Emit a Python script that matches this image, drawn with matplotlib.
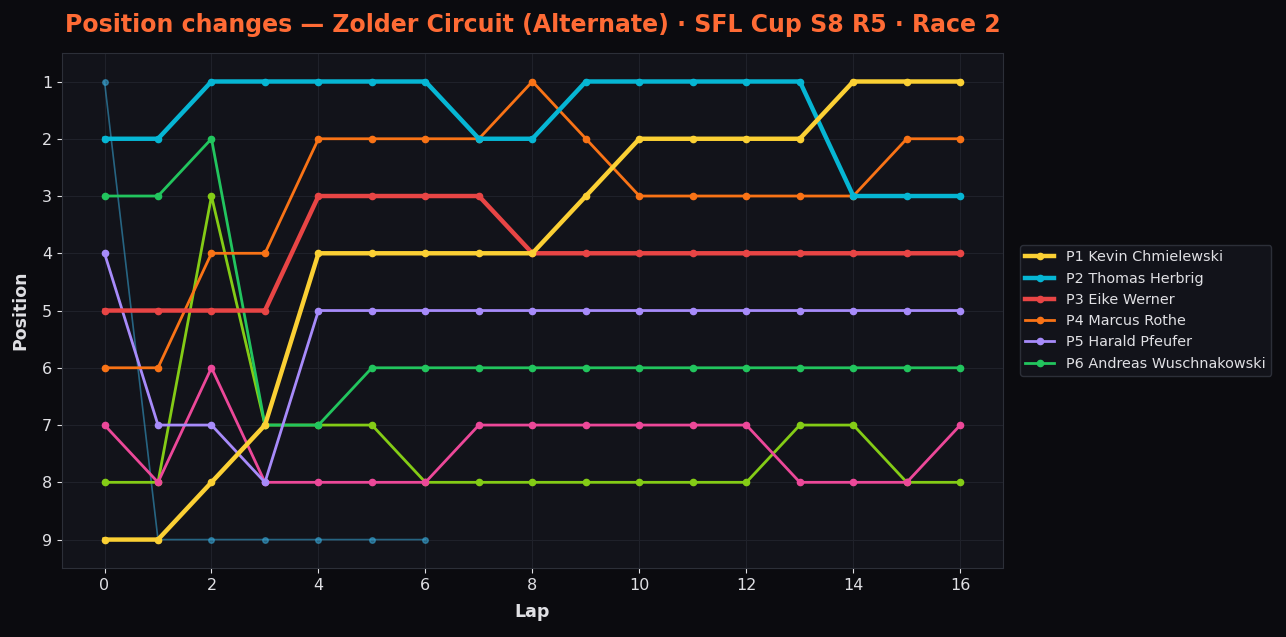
import matplotlib
matplotlib.use("Agg")
import matplotlib.pyplot as plt

# Rundendaten
laps = list(range(17))

p1_kevin = [9, 9, 8, 7, 4, 4, 4, 4, 4, 3, 2, 2, 2, 2, 1, 1, 1]
p2_thomas = [2, 2, 1, 1, 1, 1, 1, 2, 2, 1, 1, 1, 1, 1, 3, 3, 3]
p3_eike = [5, 5, 5, 5, 3, 3, 3, 3, 4, 4, 4, 4, 4, 4, 4, 4, 4]
p4_marcus = [6, 6, 4, 4, 2, 2, 2, 2, 1, 2, 3, 3, 3, 3, 3, 2, 2]
p5_harald = [4, 7, 7, 8, 5, 5, 5, 5, 5, 5, 5, 5, 5, 5, 5, 5, 5]
p6_andreas = [3, 3, 2, 7, 7, 6, 6, 6, 6, 6, 6, 6, 6, 6, 6, 6, 6]
p7_pink = [7, 8, 6, 8, 8, 8, 8, 7, 7, 7, 7, 7, 7, 8, 8, 8, 7]
p8_lime = [8, 8, 3, 7, 7, 7, 8, 8, 8, 8, 8, 8, 8, 7, 7, 8, 8]
dnf_laps = [0, 1, 2, 3, 4, 5, 6]
dnf_pos = [1, 9, 9, 9, 9, 9, 9]

bg = "#0b0b0f"
axbg = "#12131a"
txt = "#e0e0e4"

fig, ax = plt.subplots(figsize=(12.86, 6.37), dpi=100)
fig.patch.set_facecolor(bg)
ax.set_facecolor(axbg)

ax.plot(dnf_laps, dnf_pos, "-o", color="#38a8d8", alpha=0.55, lw=1.2, ms=4, zorder=1)
ax.plot(laps, p8_lime, "-o", color="#84cc16", lw=2, ms=4.5, zorder=2)
ax.plot(laps, p7_pink, "-o", color="#ec4899", lw=2, ms=4.5, zorder=3)
ax.plot(laps, p6_andreas, "-o", color="#22c55e", lw=2, ms=4.5, zorder=4,
        label="P6 Andreas Wuschnakowski")
ax.plot(laps, p5_harald, "-o", color="#a78bfa", lw=2, ms=4.5, zorder=5,
        label="P5 Harald Pfeufer")
ax.plot(laps, p4_marcus, "-o", color="#f97316", lw=2, ms=4.5, zorder=6,
        label="P4 Marcus Rothe")
ax.plot(laps, p3_eike, "-o", color="#e84545", lw=3.2, ms=4.5, zorder=7,
        label="P3 Eike Werner")
ax.plot(laps, p2_thomas, "-o", color="#06b6d4", lw=3.2, ms=4.5, zorder=8,
        label="P2 Thomas Herbrig")
ax.plot(laps, p1_kevin, "-o", color="#fbd034", lw=3.2, ms=4.5, zorder=9,
        label="P1 Kevin Chmielewski")

ax.set_ylim(9.5, 0.5)
ax.set_yticks(range(1, 10))
ax.set_xticks(range(0, 17, 2))
ax.grid(True, color="#1f212a", lw=0.8)
ax.set_axisbelow(True)

for s in ax.spines.values():
    s.set_color("#2c2f38")
ax.tick_params(colors=txt, labelsize=11.5)

ax.set_xlabel("Lap", color=txt, fontsize=12.5, fontweight="bold", labelpad=7)
ax.set_ylabel("Position", color=txt, fontsize=12.5, fontweight="bold", labelpad=9)
ax.set_title("Position changes — Zolder Circuit (Alternate) · SFL Cup S8 R5 · Race 2",
             color="#ff6b35", fontsize=17, fontweight="bold", pad=15)

h, l = ax.get_legend_handles_labels()
leg = ax.legend(h[::-1], l[::-1], loc="center left", bbox_to_anchor=(1.01, 0.5),
                fontsize=10.4, facecolor=axbg, edgecolor="#2c2f38", framealpha=1)
for t in leg.get_texts():
    t.set_color(txt)

plt.subplots_adjust(left=0.048, right=0.78, top=0.917, bottom=0.108)
plt.savefig("out.png", facecolor=bg)
